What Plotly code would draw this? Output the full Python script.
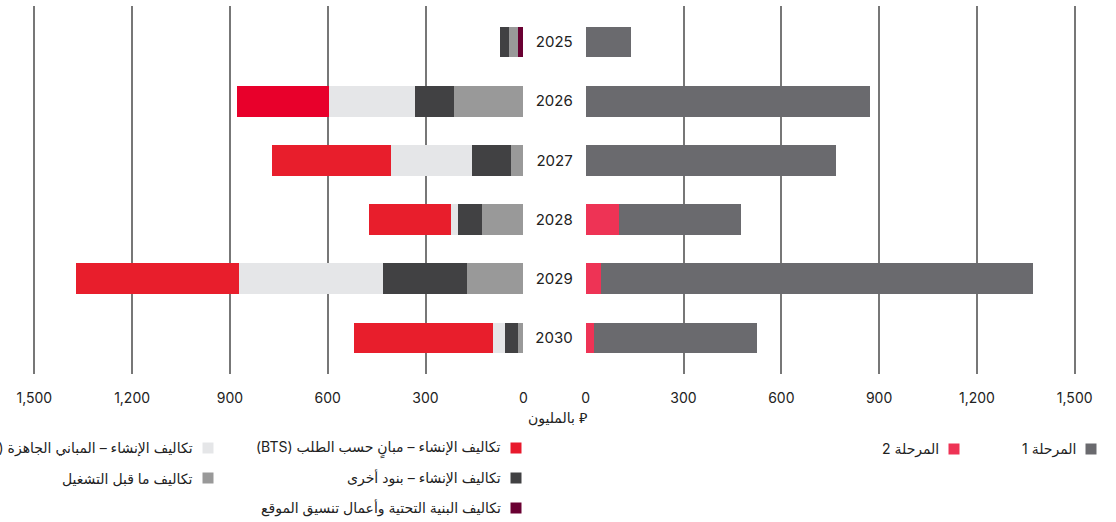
import plotly.graph_objects as go

years = ["2025", "2026", "2027", "2028", "2029", "2030"]

# left panel - cost breakdown (SAR million)
infra_site = [16, 0, 0, 0, 0, 0]
pre_operating = [28, 213, 38, 127, 173, 16]
construction_other = [28, 120, 120, 74, 258, 40]
construction_ready = [0, 264, 249, 21, 442, 37]
construction_bts = [0, 280, 365, 252, 500, 427]

# right panel - phases (SAR million)
phase_2 = [0, 0, 0, 103, 48, 25]
phase_1 = [138, 873, 769, 373, 1325, 499]

tick_vals = [0, 300, 600, 900, 1200, 1500]
tick_text = ["0", "300", "600", "900", "1,200", "1,500"]

W, H = 1116, 522
PLOT_TOP, PLOT_BOTTOM = 6, 374
X_MAX = 1506  # a little past 1,500 so the last gridline is still drawn
PX_PER_UNIT = 97.8 / 300


def px(x):
    return x / W


def py(y):
    return (PLOT_BOTTOM - y) / (PLOT_BOTTOM - PLOT_TOP)


FONT = "Inter, DejaVu Sans, sans-serif"

fig = go.Figure()

# ---------------------------- left panel ---------------------------- #
left_series = [
    ("تكاليف البنية التحتية وأعمال تنسيق الموقع", infra_site, "#6A0032"),
    ("تكاليف ما قبل التشغيل", pre_operating, "#999999"),
    ("تكاليف الإنشاء – بنود أخرى", construction_other, "#414143"),
    ("تكاليف الإنشاء – المباني الجاهزة (RBF)", construction_ready, "#E5E6E8"),
    ("تكاليف الإنشاء – مبانٍ حسب الطلب (BTS)", construction_bts,
     ["#E8002B", "#E8002B", "#E81E2C", "#E81E2C", "#E81E2C", "#E81E2C"]),
]
for name, vals, color in left_series:
    fig.add_trace(go.Bar(
        name=name, y=years, x=vals, orientation="h",
        marker=dict(color=color, line_width=0),
        width=0.52, xaxis="x", yaxis="y", showlegend=False,
    ))

# ---------------------------- right panel ---------------------------- #
for name, vals, color in [("المرحلة 2", phase_2, "#EE3355"),
                          ("المرحلة 1", phase_1, "#6A6A6E")]:
    fig.add_trace(go.Bar(
        name=name, y=years, x=vals, orientation="h",
        marker=dict(color=color, line_width=0),
        width=0.52, xaxis="x2", yaxis="y2", showlegend=False,
    ))

axis_common = dict(
    tickmode="array", tickvals=tick_vals, ticktext=tick_text,
    showgrid=True, gridcolor="#777777", gridwidth=1.5,
    zeroline=False, showline=False, ticks="", ticklabelstandoff=14,
    tickfont=dict(family=FONT, size=14, color="#222222"),
    fixedrange=True, automargin=False,
)

left_zero, right_zero = 523.3, 585.7
span = X_MAX * PX_PER_UNIT

fig.update_layout(
    width=W, height=H, autosize=False,
    margin=dict(l=0, r=0, t=PLOT_TOP, b=H - PLOT_BOTTOM),
    paper_bgcolor="white", plot_bgcolor="white",
    barmode="stack", showlegend=False,
    xaxis=dict(axis_common, domain=[px(left_zero - span), px(left_zero)],
               range=[X_MAX, 0], anchor="y"),
    xaxis2=dict(axis_common, domain=[px(right_zero), px(right_zero + span)],
                range=[0, X_MAX], anchor="y2"),
    yaxis=dict(
        type="category", categoryorder="array", categoryarray=years,
        range=[5.608, -0.608], showticklabels=False, showgrid=False,
        zeroline=False, anchor="x", domain=[0, 1], automargin=False,
        fixedrange=True,
    ),
    yaxis2=dict(
        type="category", categoryorder="array", categoryarray=years,
        range=[5.608, -0.608], showgrid=False, zeroline=False, anchor="x2",
        domain=[0, 1], ticks="", ticklabelstandoff=12, automargin=False,
        tickfont=dict(family=FONT, size=15, color="#222222"), fixedrange=True,
    ),
)

# axis title
fig.add_annotation(
    text="بالمليون \u20c1", xref="paper", yref="paper",
    x=px(557), y=py(418), xanchor="center", yanchor="middle",
    showarrow=False, font=dict(family=FONT, size=14, color="#222222"),
)

# -------------------------- custom RTL legend -------------------------- #
legend_items = [
    ("\u202bتكاليف الإنشاء – مبانٍ حسب الطلب (BTS)\u202c", "#E8192C", 516, 448),
    ("\u202bتكاليف الإنشاء – بنود أخرى\u202c", "#414143", 516, 478),
    ("\u202bتكاليف البنية التحتية وأعمال تنسيق الموقع\u202c", "#6A0032", 516, 508),
    ("\u202bتكاليف الإنشاء – المباني الجاهزة (RBF)\u202c", "#E5E6E8", 208, 448),
    ("\u202bتكاليف ما قبل التشغيل\u202c", "#999999", 208, 478),
    ("\u202bالمرحلة 1\u202c", "#6A6A6E", 1091, 449),
    ("\u202bالمرحلة 2\u202c", "#EE3355", 954, 449),
]
for text, color, cx, cy in legend_items:
    fig.add_shape(
        type="rect", xref="paper", yref="paper",
        x0=px(cx - 5.5), x1=px(cx + 5.5), y0=py(cy + 5.5), y1=py(cy - 5.5),
        fillcolor=color, line_width=0,
    )
    fig.add_annotation(
        text=text, xref="paper", yref="paper",
        x=px(cx - 13), y=py(cy), xanchor="right", yanchor="middle",
        showarrow=False, font=dict(family=FONT, size=14, color="#222222"),
    )

# drop the default page margin so the figure sits at the window origin
fig.write_html(
    "out.html",
    config={"displayModeBar": False},
    post_script="document.body.style.margin='0';document.body.style.overflow='hidden';",
)
